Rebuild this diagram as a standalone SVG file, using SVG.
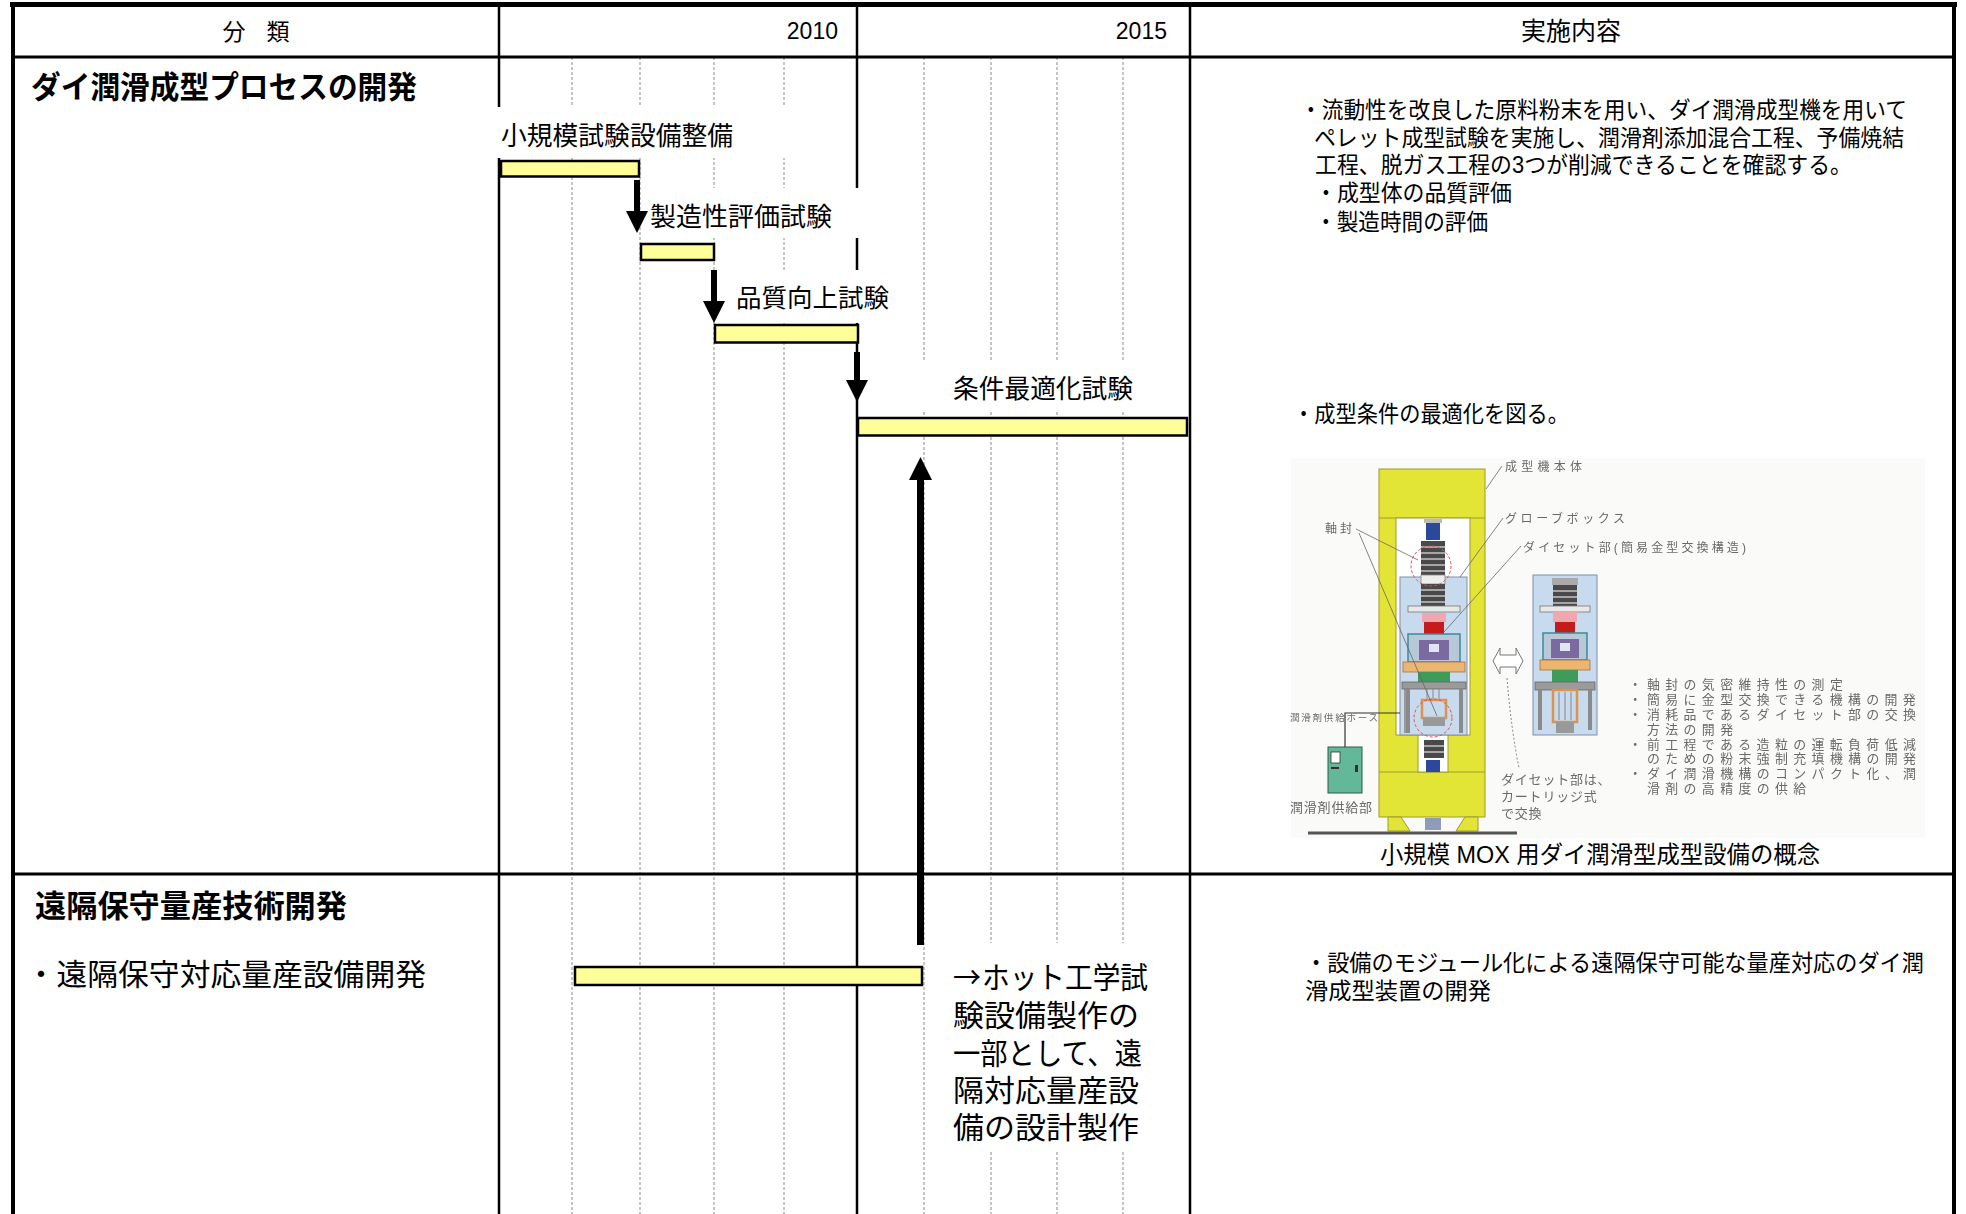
<svg xmlns="http://www.w3.org/2000/svg" width="1966" height="1214" viewBox="0 0 1966 1214">
  <style>
    .jp { font-family: "Liberation Sans", "Noto Sans CJK JP", sans-serif; fill: #000; }
    .cjk { font-family: "Noto Sans CJK JP", sans-serif; fill: #000; }
    .num { font-family: "Liberation Sans", Arial, sans-serif; font-size: 23px; fill: #000; }
    .b { font-weight: 700; }
    .grid { stroke: #8a8a8a; stroke-width: 1; stroke-dasharray: 3 2; }
    .col { stroke: #000; stroke-width: 2.5; }
    .rule { stroke: #000; fill: none; }
    .mask { fill: #fff; }
    .bar { fill: #FFFF99; stroke: #000; stroke-width: 2.5; }
    .flow { stroke: #000; fill: none; }
    .fig { font-family: "Liberation Sans", "Noto Sans CJK JP", sans-serif; fill: #6a6a6a; }
    .lead { stroke: #666; stroke-width: 0.8; fill: none; }
    .yel { fill: #E2E535; stroke: #9C9C2C; stroke-width: 1; }
    .gb { fill: #C8DAEE; stroke: #8090A8; stroke-width: 1; }
    .bel { fill: #4a4a4a; }
    .belline { stroke: #bdbdbd; stroke-width: 1.6; }
    .seal { fill: none; stroke: #E05050; stroke-width: 1; stroke-dasharray: 3 2; }
  </style>
  <defs>
    <marker id="ah" viewBox="0 0 22 22" refX="0" refY="11" markerWidth="22" markerHeight="22" markerUnits="userSpaceOnUse" orient="auto">
      <path d="M0,0 L22,11 L0,22 z" fill="#000"/>
    </marker>
    <marker id="ahBig" viewBox="0 0 23 23" refX="0" refY="11.5" markerWidth="23" markerHeight="23" markerUnits="userSpaceOnUse" orient="auto">
      <path d="M0,0 L23,11.5 L0,23 z" fill="#000"/>
    </marker>
    <filter id="soft" x="-2%" y="-2%" width="104%" height="104%">
      <feGaussianBlur stdDeviation="0.55"/>
    </filter>
  </defs>

  <rect x="0" y="0" width="1966" height="1214" fill="#fff"/>

  <!-- timeline grid: dashed sub-year lines -->
  <g id="grid">
    <line class="grid" x1="572" y1="57" x2="572" y2="1214"/>
    <line class="grid" x1="640" y1="57" x2="640" y2="1214"/>
    <line class="grid" x1="714" y1="57" x2="714" y2="1214"/>
    <line class="grid" x1="784" y1="57" x2="784" y2="1214"/>
    <line class="grid" x1="924" y1="57" x2="924" y2="1214"/>
    <line class="grid" x1="991" y1="57" x2="991" y2="1214"/>
    <line class="grid" x1="1057" y1="57" x2="1057" y2="1214"/>
    <line class="grid" x1="1123" y1="57" x2="1123" y2="1214"/>
    <!-- column rules -->
    <line class="col" x1="499" y1="6" x2="499" y2="1214"/>
    <line class="col" x1="857" y1="6" x2="857" y2="1214"/>
    <line class="col" x1="1190" y1="6" x2="1190" y2="1214"/>
  </g>

  <!-- white label backgrounds -->
  <g id="label-backs">
    <rect class="mask" x="496" y="107" width="306" height="51"/>
    <rect class="mask" x="645" y="188" width="228" height="50"/>
    <rect class="mask" x="728" y="270" width="172" height="53"/>
    <rect class="mask" x="900" y="360" width="252" height="52"/>
    <rect class="mask" x="935" y="943" width="218" height="207"/>
  </g>

  <!-- table frame -->
  <g id="frame">
    <line class="rule" x1="10" y1="4.5" x2="1957" y2="4.5" stroke-width="5"/>
    <line class="rule" x1="13" y1="2" x2="13" y2="1214" stroke-width="4"/>
    <line class="rule" x1="1954" y1="2" x2="1954" y2="1214" stroke-width="4"/>
    <line class="rule" x1="11" y1="57" x2="1956" y2="57" stroke-width="3"/>
    <line class="rule" x1="11" y1="874" x2="1956" y2="874" stroke-width="3"/>
  </g>

  <!-- header -->
  <g id="header">
    <text class="jp" x="256" y="40" font-size="23" text-anchor="middle" textLength="67">分　類</text>
    <text class="num" x="838" y="39" text-anchor="end">2010</text>
    <text class="num" x="1167" y="39" text-anchor="end">2015</text>
    <text class="jp" x="1571" y="40" font-size="25" text-anchor="middle">実施内容</text>
  </g>

  <!-- section 1 -->
  <g id="sec1-title">
    <text class="jp b" x="31" y="98" font-size="31" textLength="386" lengthAdjust="spacingAndGlyphs">ダイ潤滑成型プロセスの開発</text>
  </g>

  <g id="task-setup">
    <text class="jp" x="501" y="145" font-size="25.7" textLength="232" lengthAdjust="spacingAndGlyphs">小規模試験設備整備</text>
    <rect class="bar" x="501" y="161" width="138" height="15.5"/>
  </g>
  <g id="task-manufacturability">
    <text class="jp" x="650" y="226" font-size="25.7" textLength="182" lengthAdjust="spacingAndGlyphs">製造性評価試験</text>
    <rect class="bar" x="641" y="244" width="73" height="16"/>
  </g>
  <g id="task-quality">
    <text class="jp" x="736" y="307" font-size="25.5" textLength="153" lengthAdjust="spacingAndGlyphs">品質向上試験</text>
    <rect class="bar" x="715" y="325" width="143" height="17.5"/>
  </g>
  <g id="task-optimize">
    <text class="jp" x="953" y="398" font-size="25.7" textLength="180" lengthAdjust="spacingAndGlyphs">条件最適化試験</text>
    <rect class="bar" x="858" y="418" width="329" height="17.5"/>
  </g>

  <!-- section 1 description -->
  <g id="sec1-notes">
    <text class="jp" font-size="23"><tspan x="1300" y="118" textLength="607" lengthAdjust="spacingAndGlyphs">・流動性を改良した原料粉末を用い、ダイ潤滑成型機を用いて</tspan><tspan x="1314" y="146" textLength="590" lengthAdjust="spacingAndGlyphs">ペレット成型試験を実施し、潤滑剤添加混合工程、予備焼結</tspan><tspan x="1315" y="173" textLength="537" lengthAdjust="spacingAndGlyphs">工程、脱ガス工程の3つが削減できることを確認する。</tspan><tspan x="1315" y="201" textLength="197" lengthAdjust="spacingAndGlyphs">・成型体の品質評価</tspan><tspan x="1315" y="230" textLength="173" lengthAdjust="spacingAndGlyphs">・製造時間の評価</tspan></text>
    <text class="jp" x="1293" y="422" font-size="23" textLength="276" lengthAdjust="spacingAndGlyphs">・成型条件の最適化を図る。</text>
  </g>

  <!-- concept drawing of the small-scale die-lubrication press -->
  <g id="press-figure">
    <rect x="1291" y="458" width="634" height="380" fill="#FAFAF8"/>
    <g filter="url(#soft)">
      <!-- press frame -->
      <rect class="yel" x="1379" y="469" width="106" height="348"/>
      <line x1="1379" y1="518" x2="1485" y2="518" stroke="#9C9C2C"/>
      <rect x="1396" y="518" width="74" height="217" fill="#fff" stroke="#9C9C2C"/>
      <line x1="1379" y1="772" x2="1485" y2="772" stroke="#9C9C2C"/>
      <rect x="1418" y="735" width="30" height="37" fill="#fff" stroke="#9C9C2C"/>
      <polygon class="yel" points="1388,817 1401,817 1410,831 1388,831"/>
      <polygon class="yel" points="1465,817 1478,817 1478,831 1456,831"/>
      <rect x="1425" y="818" width="16" height="12" fill="#8E9CB8"/>
      <line x1="1308" y1="833" x2="1517" y2="833" stroke="#555" stroke-width="3"/>

      <!-- glove box -->
      <rect class="gb" x="1400" y="577" width="67" height="158"/>
      <rect x="1404" y="688" width="5" height="45" fill="#9a9a9a"/>

      <!-- upper ram and shaft seal -->
      <rect x="1424" y="519" width="18" height="4" fill="#bbb"/>
      <rect x="1426" y="523" width="14" height="17" fill="#2B4A9C"/>
      <rect class="bel" x="1421" y="541" width="24" height="34"/>
      <line class="belline" x1="1421" y1="547" x2="1445" y2="547"/>
      <line class="belline" x1="1421" y1="553" x2="1445" y2="553"/>
      <line class="belline" x1="1421" y1="559" x2="1445" y2="559"/>
      <line class="belline" x1="1421" y1="565" x2="1445" y2="565"/>
      <line class="belline" x1="1421" y1="571" x2="1445" y2="571"/>
      <rect x="1421" y="575" width="24" height="9" fill="#eee" stroke="#888" stroke-width="0.8"/>
      <rect class="bel" x="1421" y="584" width="24" height="22"/>
      <line class="belline" x1="1421" y1="590" x2="1445" y2="590"/>
      <line class="belline" x1="1421" y1="596" x2="1445" y2="596"/>
      <line class="belline" x1="1421" y1="602" x2="1445" y2="602"/>
      <circle class="seal" cx="1431" cy="566" r="20"/>

      <!-- die set -->
      <rect x="1408" y="606" width="52" height="6" fill="#e8e8e8" stroke="#777" stroke-width="0.8"/>
      <rect x="1422" y="613" width="24" height="9" fill="#F2A7AE"/>
      <rect x="1424" y="622" width="20" height="12" fill="#C41A1A"/>
      <rect x="1408" y="634" width="52" height="28" fill="#B8C8D8" stroke="#3A8A9A" stroke-width="1.5"/>
      <rect x="1419" y="640" width="30" height="20" fill="#7A6AA0"/>
      <rect x="1429" y="644" width="10" height="8" fill="#dfe6f0"/>
      <rect x="1403" y="662" width="62" height="10" fill="#EDB572" stroke="#A8733A" stroke-width="0.8"/>
      <rect x="1418" y="672" width="32" height="10" fill="#3F9A5A"/>
      <rect x="1402" y="682" width="64" height="7" fill="#9a9a9a" stroke="#666" stroke-width="0.8"/>
      <rect x="1406" y="689" width="4" height="44" fill="#8a8a8a"/>
      <rect x="1459" y="689" width="4" height="44" fill="#8a8a8a"/>
      <line x1="1427" y1="689" x2="1427" y2="700" stroke="#888"/>
      <line x1="1433" y1="689" x2="1433" y2="700" stroke="#888"/>
      <line x1="1439" y1="689" x2="1439" y2="700" stroke="#888"/>
      <rect x="1422" y="700" width="24" height="18" fill="none" stroke="#D8954E" stroke-width="2.5"/>
      <rect x="1423" y="718" width="22" height="8" fill="#999"/>
      <circle class="seal" cx="1433" cy="718" r="19"/>

      <!-- lower ram -->
      <rect class="bel" x="1424" y="740" width="20" height="18"/>
      <line class="belline" x1="1424" y1="746" x2="1444" y2="746"/>
      <line class="belline" x1="1424" y1="752" x2="1444" y2="752"/>
      <rect x="1426" y="760" width="14" height="12" fill="#2B4A9C"/>

      <!-- lubricant supply unit and hose -->
      <rect x="1328" y="747" width="34" height="46" fill="#62B898" stroke="#2E5A4A"/>
      <rect x="1331" y="752" width="9" height="11" fill="#fff" stroke="#333" stroke-width="0.8"/>
      <rect x="1331" y="767" width="8" height="2" fill="#333"/>
      <rect x="1355" y="765" width="3" height="7" fill="#333"/>
      <polyline points="1345,747 1345,713 1400,713" fill="none" stroke="#333" stroke-width="1.2"/>

      <!-- exchangeable die-set cartridge -->
      <rect class="gb" x="1533" y="575" width="64" height="160"/>
      <rect x="1552" y="578" width="26" height="7" fill="#aaa"/>
      <rect class="bel" x="1553" y="585" width="24" height="21"/>
      <line class="belline" x1="1553" y1="591" x2="1577" y2="591"/>
      <line class="belline" x1="1553" y1="597" x2="1577" y2="597"/>
      <line class="belline" x1="1553" y1="603" x2="1577" y2="603"/>
      <rect x="1540" y="606" width="50" height="6" fill="#e8e8e8" stroke="#777" stroke-width="0.8"/>
      <rect x="1553" y="612" width="24" height="10" fill="#F2A7AE"/>
      <rect x="1555" y="622" width="20" height="11" fill="#C41A1A"/>
      <rect x="1543" y="633" width="44" height="27" fill="#B8C8D8" stroke="#3A8A9A" stroke-width="1.5"/>
      <rect x="1551" y="639" width="28" height="19" fill="#7A6AA0"/>
      <rect x="1560" y="643" width="10" height="8" fill="#dfe6f0"/>
      <rect x="1540" y="660" width="50" height="10" fill="#EDB572" stroke="#A8733A" stroke-width="0.8"/>
      <rect x="1552" y="670" width="26" height="12" fill="#3F9A5A"/>
      <rect x="1535" y="682" width="60" height="8" fill="#9a9a9a" stroke="#666" stroke-width="0.8"/>
      <rect x="1538" y="690" width="4" height="40" fill="#8a8a8a"/>
      <rect x="1588" y="690" width="4" height="40" fill="#8a8a8a"/>
      <rect x="1553" y="690" width="24" height="32" fill="none" stroke="#D8954E" stroke-width="2.5"/>
      <line x1="1559" y1="692" x2="1559" y2="720" stroke="#888"/>
      <line x1="1565" y1="692" x2="1565" y2="720" stroke="#888"/>
      <line x1="1571" y1="692" x2="1571" y2="720" stroke="#888"/>
      <rect x="1556" y="722" width="18" height="11" fill="#999"/>

      <!-- exchange arrow and leaders -->
      <polygon points="1493,661 1500,648 1500,655 1516,655 1516,648 1523,661 1516,674 1516,667 1500,667 1500,674" fill="#fff" stroke="#777" stroke-width="1"/>
      <path class="lead" d="M1507,678 Q1511,728 1519,768" stroke-dasharray="2 2"/>
      <line class="lead" x1="1502" y1="466" x2="1486" y2="489"/>
      <line class="lead" x1="1503" y1="518" x2="1460" y2="577"/>
      <line class="lead" x1="1521" y1="546" x2="1444" y2="632"/>
      <line class="lead" x1="1356" y1="529" x2="1418" y2="560"/>
      <line class="lead" x1="1359" y1="533" x2="1437" y2="716"/>

      <!-- drawing annotations -->
      <text class="fig" x="1505" y="471" font-size="12" textLength="77">成型機本体</text>
      <text class="fig" x="1505" y="523" font-size="12" textLength="120">グローブボックス</text>
      <text class="fig" x="1523" y="552" font-size="12" textLength="223">ダイセット部(簡易金型交換構造)</text>
      <text class="fig" x="1325" y="533" font-size="12" textLength="27">軸封</text>
      <text class="fig" x="1290" y="721" font-size="9.5" textLength="88">潤滑剤供給ホース</text>
      <text class="fig" x="1290" y="812" font-size="13" textLength="82">潤滑剤供給部</text>
      <text class="fig" font-size="13" letter-spacing="0.8"><tspan x="1501" y="784">ダイセット部は、</tspan><tspan x="1501" y="801">カートリッジ式</tspan><tspan x="1501" y="818">で交換</tspan></text>

      <text class="fig" font-size="12.9" letter-spacing="5.4"><tspan x="1628.7" y="689">・軸封の気密維持性の測定</tspan><tspan x="1628.7" y="704">・簡易に金型交換できる機構の開発</tspan><tspan x="1628.7" y="719">・消耗品であるダイセット部の交換</tspan><tspan x="1647" y="733.5">方法の開発</tspan><tspan x="1628.7" y="748.5">・前工程である造粒の運転負荷低減</tspan><tspan x="1647" y="763">のための粉末強制充填機構の開発</tspan><tspan x="1628.7" y="778">・ダイ潤滑機構のコンパクト化、潤</tspan><tspan x="1647" y="793">滑剤の高精度の供給</tspan></text>
    </g>
    <text class="jp" x="1380" y="863" font-size="24" textLength="440" lengthAdjust="spacingAndGlyphs">小規模 MOX 用ダイ潤滑型成型設備の概念</text>
  </g>

  <!-- section 2 -->
  <g id="sec2-title">
    <text class="jp b" x="35" y="917" font-size="31" textLength="312" lengthAdjust="spacingAndGlyphs">遠隔保守量産技術開発</text>
  </g>
  <g id="task-remote">
    <text class="jp" font-size="30"><tspan x="26" y="985">・</tspan><tspan x="56.5" y="985" textLength="369.5" lengthAdjust="spacingAndGlyphs">遠隔保守対応量産設備開発</tspan></text>
    <rect class="bar" x="575" y="967" width="347" height="18"/>
  </g>
  <g id="remote-note">
    <text class="cjk" x="953" y="988" font-size="30" textLength="28" lengthAdjust="spacingAndGlyphs">→</text>
    <text class="jp" font-size="30"><tspan x="982" y="988" textLength="166" lengthAdjust="spacingAndGlyphs">ホット工学試</tspan><tspan x="953" y="1026" textLength="186" lengthAdjust="spacingAndGlyphs">験設備製作の</tspan><tspan x="953" y="1064" textLength="189" lengthAdjust="spacingAndGlyphs">一部として、遠</tspan><tspan x="953" y="1101" textLength="186" lengthAdjust="spacingAndGlyphs">隔対応量産設</tspan><tspan x="953" y="1138" textLength="186" lengthAdjust="spacingAndGlyphs">備の設計製作</tspan></text>
  </g>
  <g id="sec2-notes">
    <text class="jp" font-size="23"><tspan x="1305" y="971" textLength="619" lengthAdjust="spacingAndGlyphs">・設備のモジュール化による遠隔保守可能な量産対応のダイ潤</tspan><tspan x="1305" y="999" textLength="186" lengthAdjust="spacingAndGlyphs">滑成型装置の開発</tspan></text>
  </g>

  <!-- connectors -->
  <g id="connectors">
    <line class="flow" x1="637" y1="180" x2="637" y2="211" stroke-width="6" marker-end="url(#ah)"/>
    <line class="flow" x1="714" y1="270" x2="714" y2="301" stroke-width="6" marker-end="url(#ah)"/>
    <line class="flow" x1="857" y1="352" x2="857" y2="380" stroke-width="6" marker-end="url(#ah)"/>
    <line class="flow" x1="920.5" y1="945" x2="920.5" y2="480" stroke-width="7" marker-end="url(#ahBig)"/>
  </g>
</svg>
